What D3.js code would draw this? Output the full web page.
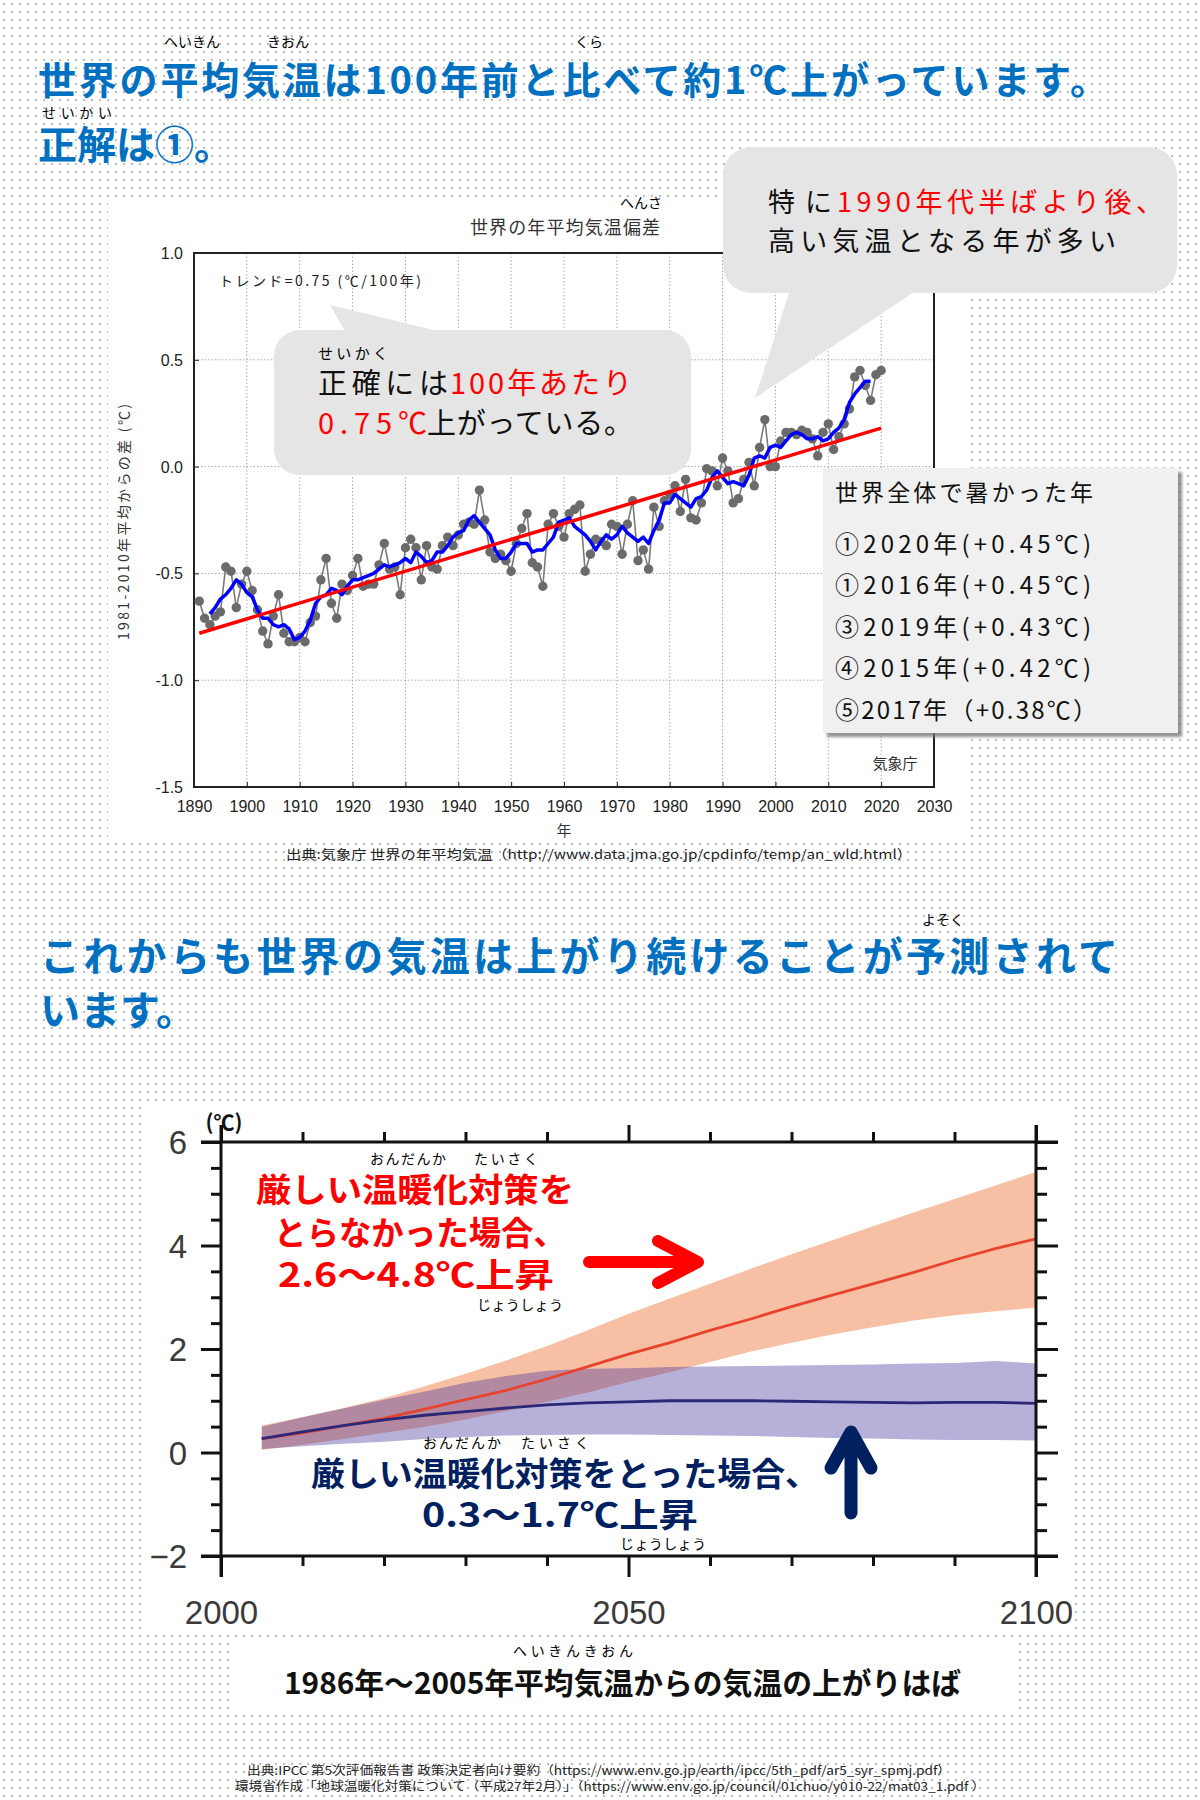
<!DOCTYPE html>
<html><head><meta charset="utf-8">
<script src="https://cdn.jsdelivr.net/npm/d3@7/dist/d3.min.js"></script>
<style>body{margin:0;background:#fff}svg{display:block}</style>
</head><body><svg id="c" width="1200" height="1800"></svg>
<script>
// ---------- DATA: JMA global annual mean temperature anomaly (vs 1981-2010) ----------
const obsStartYear = 1891;
const anomalies = [
 -0.63,-0.71,-0.74,-0.70,-0.68,-0.47,-0.49,-0.66,-0.55,-0.49,
 -0.58,-0.67,-0.77,-0.83,-0.70,-0.60,-0.78,-0.82,-0.82,-0.80,
 -0.82,-0.73,-0.70,-0.53,-0.43,-0.64,-0.71,-0.55,-0.58,-0.51,
 -0.43,-0.56,-0.55,-0.55,-0.46,-0.36,-0.48,-0.47,-0.60,-0.38,
 -0.34,-0.38,-0.53,-0.37,-0.47,-0.48,-0.37,-0.33,-0.37,-0.32,
 -0.27,-0.26,-0.27,-0.11,-0.25,-0.40,-0.43,-0.41,-0.44,-0.49,
 -0.36,-0.29,-0.22,-0.45,-0.47,-0.56,-0.27,-0.22,-0.28,-0.33,
 -0.22,-0.20,-0.18,-0.49,-0.41,-0.34,-0.35,-0.37,-0.27,-0.28,
 -0.41,-0.27,-0.16,-0.44,-0.39,-0.48,-0.19,-0.28,-0.16,-0.13,
 -0.09,-0.21,-0.06,-0.24,-0.25,-0.17,-0.01,-0.02,-0.09, 0.04,
 -0.02,-0.17,-0.15,-0.06, 0.02,-0.09, 0.09, 0.22, 0.00, 0.00,
  0.12, 0.16, 0.16, 0.15, 0.17, 0.16, 0.13, 0.05, 0.16, 0.20,
  0.08, 0.14, 0.20, 0.27, 0.42, 0.45, 0.38, 0.31, 0.43, 0.45];
const smoothStartYear = 1893;
const smooth5yr = [
 -0.69,-0.66,-0.62,-0.60,-0.57,-0.53,-0.55,-0.59,
 -0.61,-0.67,-0.71,-0.71,-0.74,-0.75,-0.74,-0.76,-0.81,-0.80,
 -0.77,-0.72,-0.64,-0.61,-0.60,-0.57,-0.58,-0.60,-0.56,-0.53,
 -0.53,-0.52,-0.51,-0.50,-0.48,-0.46,-0.47,-0.46,-0.45,-0.43,
 -0.45,-0.40,-0.42,-0.45,-0.44,-0.40,-0.40,-0.37,-0.33,-0.31,
 -0.30,-0.25,-0.23,-0.26,-0.29,-0.32,-0.39,-0.43,-0.43,-0.40,
 -0.36,-0.36,-0.36,-0.40,-0.39,-0.39,-0.36,-0.33,-0.26,-0.25,
 -0.24,-0.28,-0.30,-0.32,-0.35,-0.39,-0.35,-0.32,-0.34,-0.32,
 -0.28,-0.31,-0.33,-0.35,-0.33,-0.36,-0.30,-0.25,-0.17,-0.17,
 -0.13,-0.15,-0.17,-0.19,-0.15,-0.14,-0.11,-0.05,-0.02,-0.05,
 -0.08,-0.07,-0.08,-0.09,-0.04, 0.04, 0.05, 0.04, 0.09, 0.10,
  0.09, 0.12, 0.15, 0.16, 0.15, 0.13, 0.13, 0.14, 0.12, 0.13,
  0.16, 0.18, 0.22, 0.30, 0.34, 0.37, 0.40, 0.40];
const trendYears = [1891, 2020];
const trendValues = [-0.78, 0.18];
const topXTicks = [1890,1900,1910,1920,1930,1940,1950,1960,1970,1980,1990,2000,2010,2020,2030];
const topYTicks = [-1.5,-1.0,-0.5,0.0,0.5,1.0];
const hotYears = ["①2020年(+0.45℃)","①2016年(+0.45℃)","③2019年(+0.43℃)","④2015年(+0.42℃)","⑤2017年（+0.38℃）"];

// ---------- DATA: IPCC AR5 projections (vs 1986-2005) ----------
const projYears = [2005,2010,2015,2020,2025,2030,2035,2040,2045,2050,2055,2060,2065,2070,2075,2080,2085,2090,2095,2100];
const rcp85Mean = [0.27,0.38,0.52,0.66,0.84,1.02,1.20,1.42,1.66,1.90,2.12,2.36,2.58,2.82,3.04,3.26,3.48,3.72,3.94,4.13];
const rcp85High = [0.52,0.68,0.86,1.05,1.28,1.52,1.78,2.06,2.36,2.68,2.97,3.26,3.55,3.83,4.10,4.37,4.64,4.90,5.16,5.42];
const rcp85Low  = [0.05,0.15,0.26,0.38,0.50,0.64,0.80,0.98,1.16,1.36,1.55,1.75,1.95,2.12,2.28,2.42,2.55,2.65,2.73,2.80];
const rcp26Mean = [0.27,0.40,0.52,0.63,0.72,0.79,0.86,0.92,0.96,0.98,1.00,1.00,1.00,0.99,0.98,0.97,0.96,0.97,0.97,0.95];
const rcp26High = [0.50,0.68,0.85,1.02,1.18,1.35,1.48,1.58,1.62,1.63,1.65,1.66,1.67,1.68,1.69,1.70,1.72,1.73,1.77,1.72];
const rcp26Low  = [0.07,0.12,0.17,0.21,0.26,0.30,0.33,0.34,0.35,0.35,0.34,0.33,0.32,0.30,0.28,0.27,0.25,0.24,0.24,0.23];
const botYMajor = [-2,0,2,4,6];
const botYMinor = [-1.5,-1,-0.5,0.5,1,1.5,2.5,3,3.5,4.5,5,5.5];
const botXMajor = [2000,2050,2100];
const botXMinor = [2010,2020,2030,2040,2060,2070,2080,2090];

// ---------- RENDER ----------
const JP = "'Noto Sans CJK JP','Noto Sans',sans-serif";
const LAT = "'Liberation Sans',Arial,sans-serif";
const svg = d3.select('#c');
const defs = svg.append('defs');
const pat = defs.append('pattern').attr('id','dots').attr('width',8).attr('height',8).attr('patternUnits','userSpaceOnUse');
pat.append('rect').attr('width',8).attr('height',8).attr('fill','#fff');
pat.append('circle').attr('cx',4).attr('cy',4).attr('r',0.75).attr('fill','#4a5585');
const sh = defs.append('filter').attr('id','shadow').attr('x','-10%').attr('y','-10%').attr('width','130%').attr('height','130%');
sh.append('feDropShadow').attr('dx',4).attr('dy',4).attr('stdDeviation',1.5).attr('flood-color','#777').attr('flood-opacity',0.8);

svg.append('rect').attr('width',1200).attr('height',1800).attr('fill','url(#dots)');

function T(g,x,y,s,o={}){
  const t=g.append('text').attr('x',x).attr('y',y).text(s)
    .attr('font-family',o.ff||JP).attr('font-size',o.fs||14)
    .attr('font-weight',o.fw||400).attr('fill',o.fill||'#000')
    .attr('text-anchor',o.anchor||'start').attr('dominant-baseline','central');
  if(o.len) t.attr('textLength',o.len).attr('lengthAdjust',o.adj||'spacing');
  if(o.rot) t.attr('transform',`rotate(${o.rot},${x},${y})`);
  return t;
}
const BLUE='#0070c0';

// Headings
T(svg,164,41,'へいきん',{fs:14});
T(svg,267,41,'きおん',{fs:14});
T(svg,575,41,'くら',{fs:14});
T(svg,38,77,'世界の平均気温は100年前と比べて約1℃上がっています。',{fs:38,fw:700,fill:BLUE,len:1070});
T(svg,42,112,'せいかい',{fs:14,len:70});
T(svg,38,142,'正解は①。',{fs:39,fw:700,fill:BLUE});

// ---------- Top chart ----------
svg.append('rect').attr('x',108).attr('y',198).attr('width',857).attr('height',645).attr('fill','#fff');
const gT = svg.append('g');
const x1 = d3.scaleLinear().domain([1890,2030]).range([194,934]);
const y1 = d3.scaleLinear().domain([-1.5,1.0]).range([787,253]);

T(gT,641,202,'へんさ',{fs:14,anchor:'middle'});
T(gT,565,226,'世界の年平均気温偏差',{fs:18,fill:'#333',anchor:'middle',len:190});

// grid
gT.append('g').selectAll('line').data(topXTicks.slice(1,-1)).join('line')
  .attr('x1',d=>x1(d)).attr('x2',d=>x1(d)).attr('y1',y1(1)).attr('y2',y1(-1.5))
  .attr('stroke','#aaa').attr('stroke-width',1).attr('stroke-dasharray','1.5,2');
gT.append('g').selectAll('line').data(topYTicks.slice(1,-1)).join('line')
  .attr('x1',x1(1890)).attr('x2',x1(2030)).attr('y1',d=>y1(d)).attr('y2',d=>y1(d))
  .attr('stroke','#aaa').attr('stroke-width',1).attr('stroke-dasharray','1.5,2');

const gx1 = gT.append('g').attr('transform',`translate(0,${y1(-1.5)})`)
  .call(d3.axisBottom(x1).tickValues(topXTicks).tickSize(-5).tickFormat(d3.format('d')));
gx1.select('.domain').remove();
gx1.attr('font-size',16).attr('font-family',LAT);
gx1.selectAll('line').attr('stroke','#222');
gx1.selectAll('text').attr('y',19).attr('dy',null).attr('dominant-baseline','central').attr('fill','#222');
const gy1 = gT.append('g').attr('transform',`translate(${x1(1890)},0)`)
  .call(d3.axisLeft(y1).tickValues(topYTicks).tickSize(-5).tickPadding(11).tickFormat(d=>d.toFixed(1)));
gy1.select('.domain').remove();
gy1.attr('font-size',16).attr('font-family',LAT);
gy1.selectAll('line').attr('stroke','#222');
gy1.selectAll('text').attr('dy',null).attr('dominant-baseline','central').attr('fill','#222');
gT.append('rect').attr('x',x1(1890)).attr('y',y1(1)).attr('width',x1(2030)-x1(1890)).attr('height',y1(-1.5)-y1(1))
  .attr('fill','none').attr('stroke','#222').attr('stroke-width',2);

T(gT,123,522,'1981-2010年平均からの差 (℃)',{fs:14,fill:'#333',anchor:'middle',rot:-90,len:236});
T(gT,564,829,'年',{fs:15,fill:'#333',anchor:'middle'});
T(gT,219,280,'トレンド=0.75 (℃/100年)',{fs:14,fill:'#222',len:202});
T(gT,895,762,'気象庁',{fs:15,fill:'#333',anchor:'middle'});

const obs = anomalies.map((v,i)=>({yr:obsStartYear+i,v}));
const sm = smooth5yr.map((v,i)=>({yr:smoothStartYear+i,v}));
const ln1 = d3.line().x(d=>x1(d.yr)).y(d=>y1(d.v));
gT.append('path').datum(obs).attr('d',ln1).attr('fill','none').attr('stroke','#7a7a7a').attr('stroke-width',1.6);
gT.append('g').selectAll('circle').data(obs).join('circle')
  .attr('cx',d=>x1(d.yr)).attr('cy',d=>y1(d.v)).attr('r',4.7).attr('fill','#6b6b6b');
gT.append('path').datum(sm).attr('d',ln1).attr('fill','none').attr('stroke','#0000ff').attr('stroke-width',3.5).attr('stroke-linejoin','round');
gT.append('path').datum(trendYears.map((y,i)=>({yr:y,v:trendValues[i]}))).attr('d',ln1)
  .attr('fill','none').attr('stroke','#ff0000').attr('stroke-width',3.5);

// Callout 1
const co = svg.append('g');
co.append('polygon').attr('points','330,305 346,333 446,333').attr('fill','#e5e5e5');
co.append('rect').attr('x',274).attr('y',330).attr('width',417).attr('height',145).attr('rx',26).attr('fill','#e5e5e5');
T(co,318,352,'せいかく',{fs:15,len:70});
T(co,318,381,'正確には',{fs:29,len:130,fill:'#111'});
T(co,450,381,'100年あたり',{fs:29,len:182,fill:'#ff0000'});
T(co,318,421,'0.75℃',{fs:29,len:109,fill:'#ff0000'});
T(co,427,421,'上がっている。',{fs:29,len:206,fill:'#111'});

// Callout 2
co.append('polygon').attr('points','755,398 790,290 917,290').attr('fill','#e5e5e5');
co.append('rect').attr('x',723).attr('y',147).attr('width',454).attr('height',146).attr('rx',28).attr('fill','#e5e5e5');
T(co,768,200,'特に',{fs:27,len:64,fill:'#111'});
T(co,837,200,'1990年代半ばより後、',{fs:27,len:326,fill:'#ff0000'});
T(co,768,239,'高い気温となる年が多い',{fs:27,len:348,fill:'#111'});

// Legend box
co.append('rect').attr('x',823).attr('y',468).attr('width',355).attr('height',265).attr('fill','#f0f0f0').attr('filter','url(#shadow)');
T(co,835,491,'世界全体で暑かった年',{fs:23,len:258,fill:'#111'});
co.append('g').selectAll('text').data(hotYears).join('text')
  .attr('x',835).attr('y',(d,i)=>542+i*41.5).text(d=>d)
  .attr('font-family',JP).attr('font-size',24).attr('fill','#111').attr('dominant-baseline','central')
  .attr('textLength',(d,i)=>i===4?262:256).attr('lengthAdjust','spacing');

T(svg,286,853,'出典:気象庁 世界の年平均気温（http://www.data.jma.go.jp/cpdinfo/temp/an_wld.html）',{fs:13,fill:'#222',len:626,adj:'spacingAndGlyphs'});

// Heading 3
T(svg,943,919,'よそく',{fs:14,anchor:'middle'});
T(svg,40,954,'これからも世界の気温は上がり続けることが予測されて',{fs:40,fw:700,fill:BLUE,len:1078});
T(svg,40,1008,'います。',{fs:40,fw:700,fill:BLUE});

// ---------- Bottom chart ----------
svg.append('rect').attr('x',142).attr('y',1105).attr('width',932).attr('height',527).attr('fill','#fff');
const gB = svg.append('g');
const x2 = d3.scaleLinear().domain([2000,2100]).range([221,1036]);
const y2 = d3.scaleLinear().domain([-2,6]).range([1556,1142]);
const area = (lo,hi)=>d3.area().x((d,i)=>x2(projYears[i])).y0((d,i)=>y2(lo[i])).y1((d,i)=>y2(hi[i]));
const line2 = arr=>d3.line().x((d,i)=>x2(projYears[i])).y((d,i)=>y2(arr[i]));
gB.append('path').datum(projYears).attr('d',area(rcp85Low,rcp85High)).attr('fill','#f7c0a5');
gB.append('path').datum(projYears).attr('d',area(rcp26Low,rcp26High)).attr('fill','#422f99').attr('fill-opacity',0.38);
gB.append('path').datum(projYears).attr('d',line2(rcp85Mean)).attr('fill','none').attr('stroke','#e8432c').attr('stroke-width',2.8);
gB.append('path').datum(projYears).attr('d',line2(rcp26Mean)).attr('fill','none').attr('stroke','#2c2878').attr('stroke-width',2.8);

function styleAxis(g){ g.select('.domain').remove(); g.selectAll('line').attr('stroke','#111').attr('stroke-width',3); }
// y axes
const yl = gB.append('g').attr('transform',`translate(${x2(2000)},0)`)
  .call(d3.axisLeft(y2).tickValues(botYMajor).tickSize(20).tickPadding(14));
styleAxis(yl);
yl.attr('font-size',33).attr('font-family',LAT);
yl.selectAll('text').attr('dy',null).attr('dominant-baseline','central').attr('fill','#3a3a3a');
styleAxis(gB.append('g').attr('transform',`translate(${x2(2000)},0)`).call(d3.axisLeft(y2).tickValues(botYMinor).tickSize(10).tickFormat('')));
styleAxis(gB.append('g').attr('transform',`translate(${x2(2100)},0)`).call(d3.axisRight(y2).tickValues(botYMajor).tickSize(22).tickFormat('')));
styleAxis(gB.append('g').attr('transform',`translate(${x2(2100)},0)`).call(d3.axisRight(y2).tickValues(botYMinor).tickSize(11).tickFormat('')));
// x axes
const xb = gB.append('g').attr('transform',`translate(0,${y2(-2)})`)
  .call(d3.axisBottom(x2).tickValues(botXMajor).tickSize(21).tickFormat(d3.format('d')));
styleAxis(xb);
xb.attr('font-size',33).attr('font-family',LAT);
xb.selectAll('text').attr('y',56).attr('dy',null).attr('dominant-baseline','central').attr('fill','#3a3a3a');
styleAxis(gB.append('g').attr('transform',`translate(0,${y2(-2)})`).call(d3.axisBottom(x2).tickValues(botXMinor).tickSize(10).tickFormat('')));
styleAxis(gB.append('g').attr('transform',`translate(0,${y2(6)})`).call(d3.axisTop(x2).tickValues(botXMajor).tickSize(17).tickFormat('')));
styleAxis(gB.append('g').attr('transform',`translate(0,${y2(6)})`).call(d3.axisTop(x2).tickValues(botXMinor).tickSize(10).tickFormat('')));
// frame lines (extend like major ticks)
[[x2(2000)-20,y2(6),x2(2100)+22,y2(6)],[x2(2000)-20,y2(-2),x2(2100)+22,y2(-2)],
 [x2(2000),y2(6)-17,x2(2000),y2(-2)+21],[x2(2100),y2(6)-17,x2(2100),y2(-2)+21]].forEach(c=>{
  gB.append('line').attr('x1',c[0]).attr('y1',c[1]).attr('x2',c[2]).attr('y2',c[3]).attr('stroke','#111').attr('stroke-width',3);
});
T(gB,224,1121,'(℃)',{fs:21,fw:700,anchor:'middle',fill:'#111'});

// Red annotation
const RED='#ff0000', NAVY='#002060';
T(gB,408,1158,'おんだんか',{fs:14,anchor:'middle',len:76});
T(gB,506,1158,'たいさく',{fs:14,anchor:'middle',len:64});
T(gB,256,1188,'厳しい温暖化対策を',{fs:33,fw:700,fill:RED,len:318,adj:'spacingAndGlyphs'});
T(gB,274,1231,'とらなかった場合、',{fs:33,fw:700,fill:RED,len:292,adj:'spacingAndGlyphs'});
T(gB,278,1273,'2.6～4.8℃上昇',{fs:33,fw:700,fill:RED,len:276,adj:'spacingAndGlyphs'});
T(gB,520,1304,'じょうしょう',{fs:14,anchor:'middle',len:86});
gB.append('path').attr('d','M589,1262 L694,1262 M658,1241 L698,1262 L658,1283')
  .attr('fill','none').attr('stroke',RED).attr('stroke-width',12).attr('stroke-linecap','round').attr('stroke-linejoin','round');

// Navy annotation
T(gB,462,1442,'おんだんか',{fs:14,anchor:'middle',len:78});
T(gB,555,1442,'たいさく',{fs:14,anchor:'middle',len:68});
T(gB,311,1472,'厳しい温暖化対策をとった場合、',{fs:33,fw:700,fill:NAVY,len:508,adj:'spacingAndGlyphs'});
T(gB,422,1513,'0.3～1.7℃上昇',{fs:33,fw:700,fill:NAVY,len:276,adj:'spacingAndGlyphs'});
T(gB,663,1543,'じょうしょう',{fs:14,anchor:'middle',len:86});
gB.append('path').attr('d','M851,1513 L851,1436 M831,1468 L851,1432 L871,1468')
  .attr('fill','none').attr('stroke',NAVY).attr('stroke-width',13).attr('stroke-linecap','round').attr('stroke-linejoin','round');

// Caption
svg.append('rect').attr('x',232).attr('y',1637).attr('width',786).attr('height',72).attr('fill','#fff');
T(svg,573,1650,'へいきんきおん',{fs:14,anchor:'middle',len:120});
T(svg,284,1681,'1986年～2005年平均気温からの気温の上がりはば',{fs:30,fw:700,fill:'#111',len:677,adj:'spacingAndGlyphs'});

T(svg,247,1769,'出典:IPCC 第5次評価報告書 政策決定者向け要約（https://www.env.go.jp/earth/ipcc/5th_pdf/ar5_syr_spmj.pdf）',{fs:12,fill:'#222',len:704,adj:'spacingAndGlyphs'});
T(svg,235,1785,'環境省作成「地球温暖化対策について（平成27年2月）」（https://www.env.go.jp/council/01chuo/y010-22/mat03_1.pdf ）',{fs:12,fill:'#222',len:750,adj:'spacingAndGlyphs'});
</script></body></html>
